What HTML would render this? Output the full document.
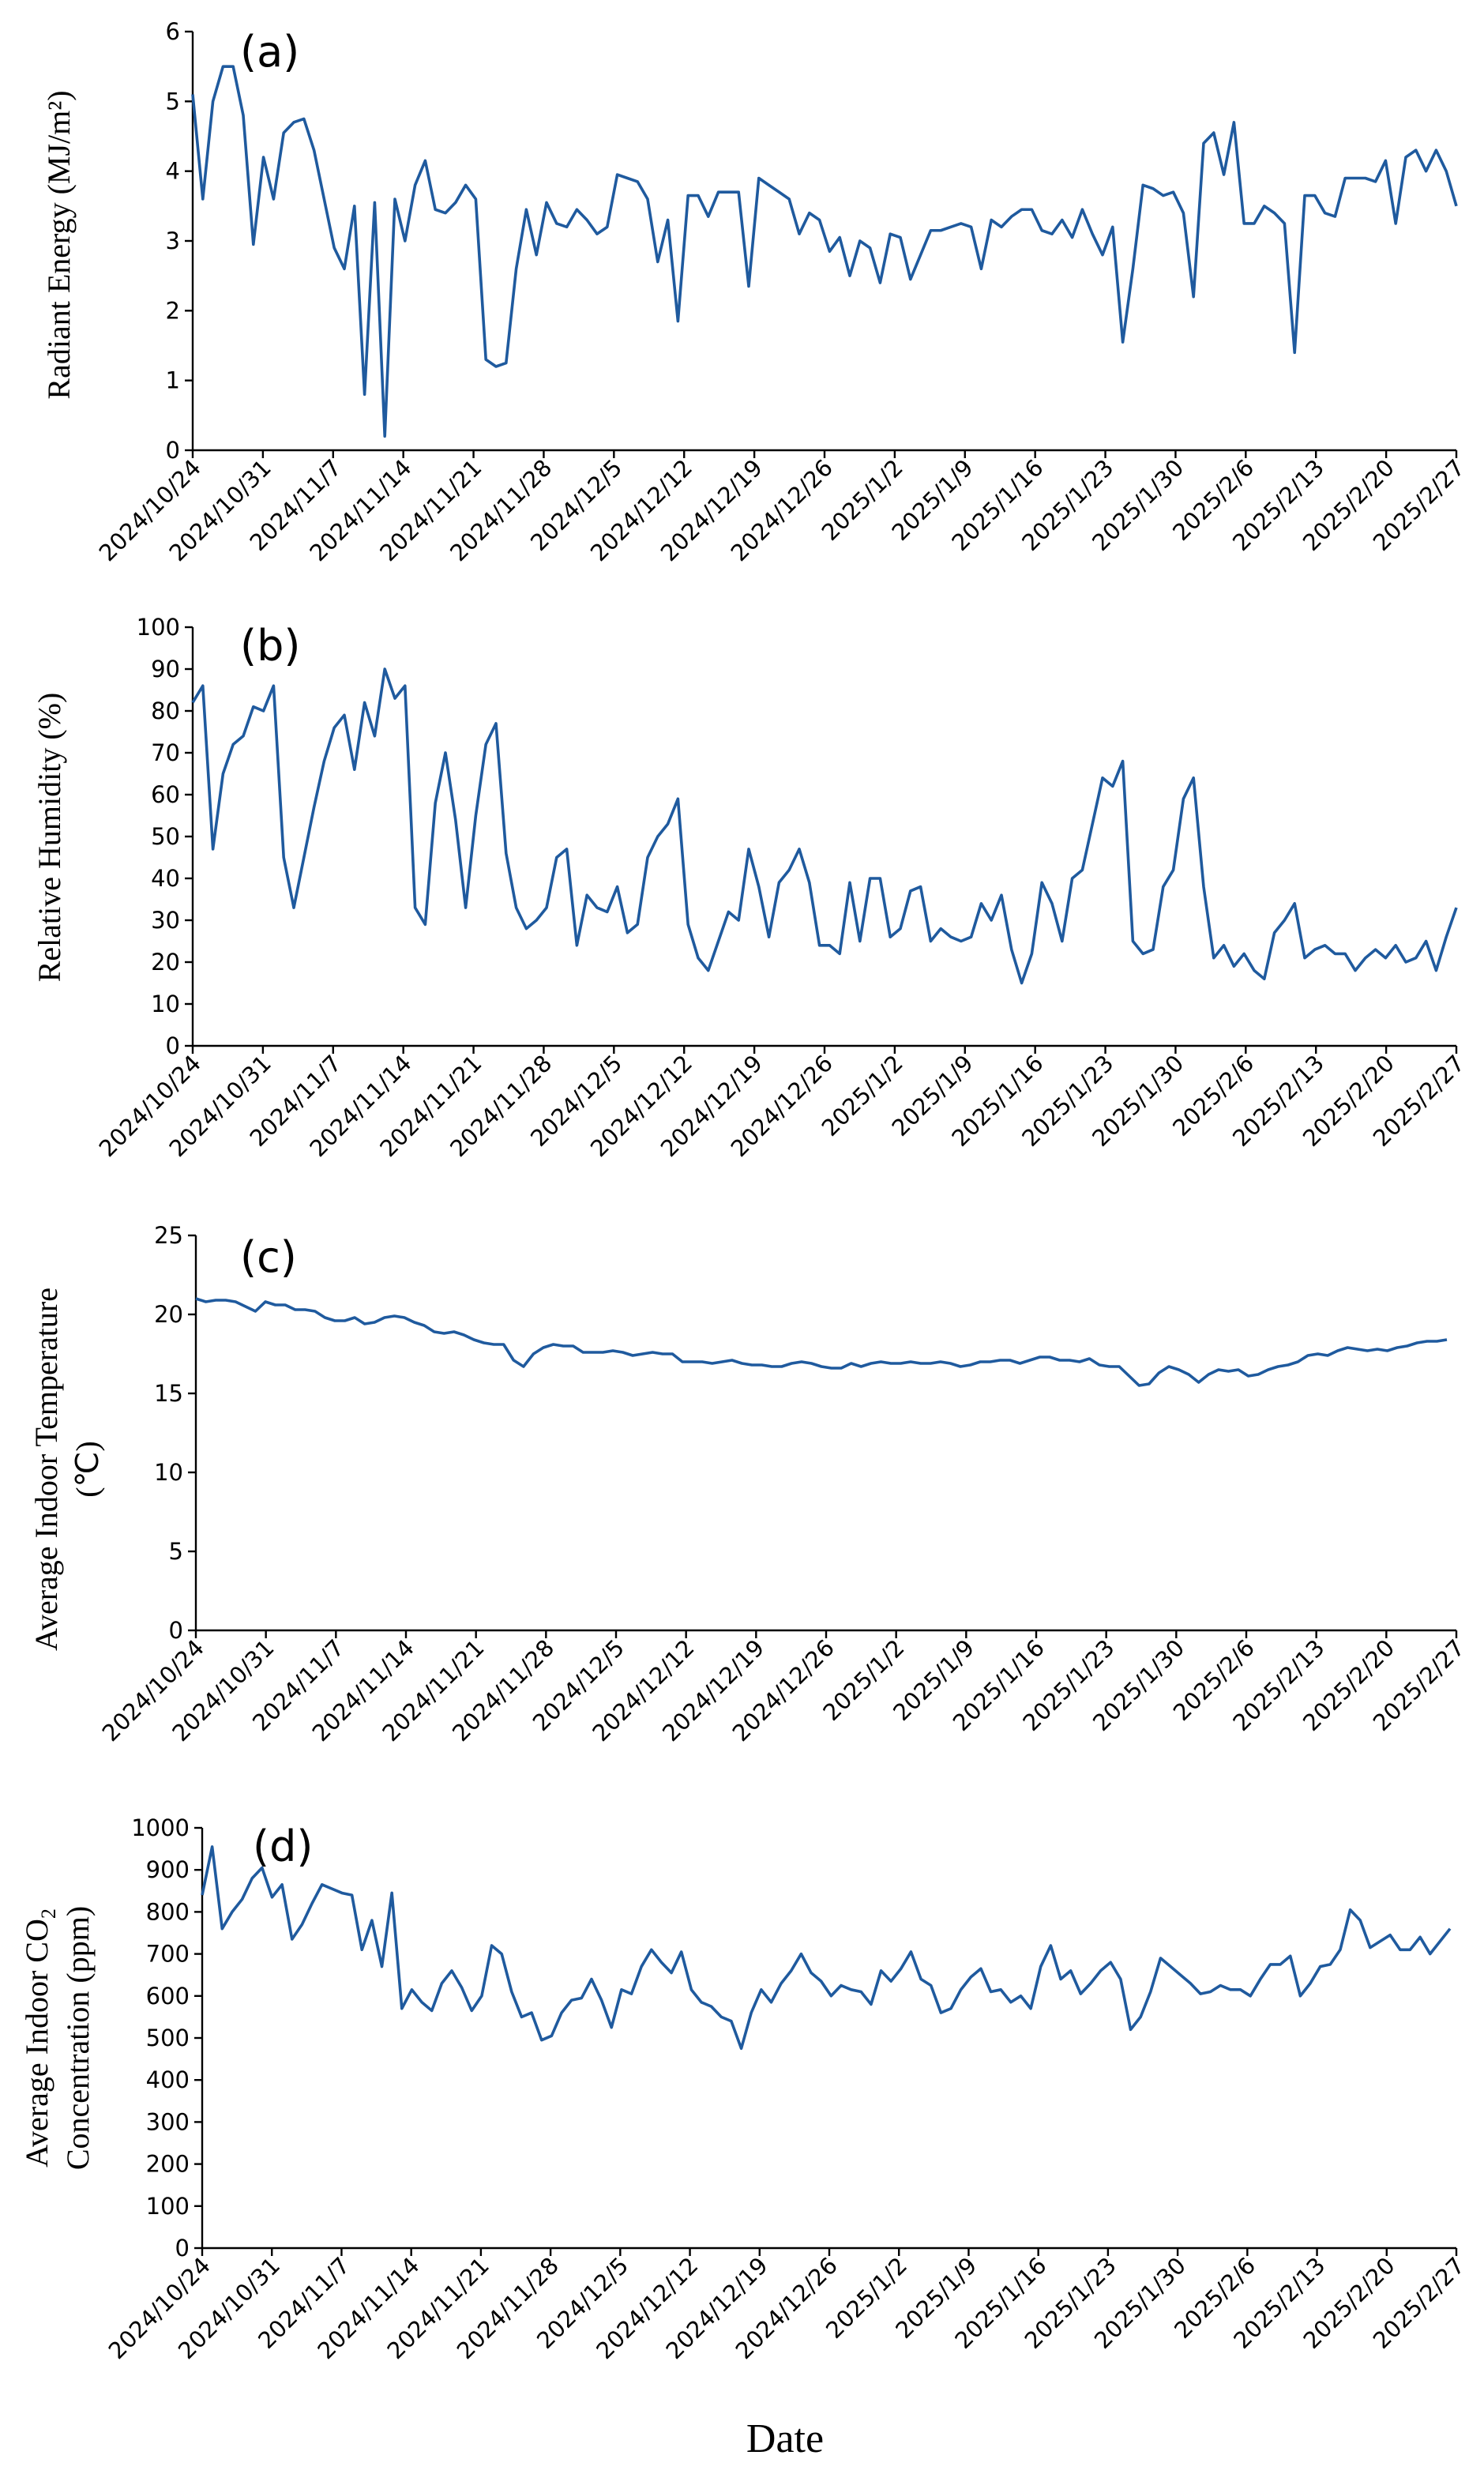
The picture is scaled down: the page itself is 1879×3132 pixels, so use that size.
<!DOCTYPE html>
<html><head><meta charset="utf-8">
<style>
html,body{margin:0;padding:0;background:#fff;}
svg{display:block;}
.tick{font-family:"DejaVu Sans","Liberation Sans",sans-serif;font-size:14.5px;fill:#000;}
.title{font-family:"Liberation Serif",serif;font-size:20px;fill:#000;}
.plab{font-family:"DejaVu Sans","Liberation Sans",sans-serif;font-size:27px;fill:#000;}
</style></head>
<body>
<svg id="chart" width="1879" height="3132" viewBox="0 0 939.5 1566" xmlns="http://www.w3.org/2000/svg"></svg>
<script>
const dateLabels=["2024/10/24","2024/10/31","2024/11/7","2024/11/14","2024/11/21","2024/11/28","2024/12/5","2024/12/12","2024/12/19","2024/12/26","2025/1/2","2025/1/9","2025/1/16","2025/1/23","2025/1/30","2025/2/6","2025/2/13","2025/2/20","2025/2/27"];
const radiantEnergy=[5.1,3.6,5.0,5.5,5.5,4.8,2.95,4.2,3.6,4.55,4.7,4.75,4.3,3.6,2.9,2.6,3.5,0.8,3.55,0.2,3.6,3.0,3.8,4.15,3.45,3.4,3.55,3.8,3.6,1.3,1.2,1.25,2.6,3.45,2.8,3.55,3.25,3.2,3.45,3.3,3.1,3.2,3.95,3.9,3.85,3.6,2.7,3.3,1.85,3.65,3.65,3.35,3.7,3.7,3.7,2.35,3.9,3.8,3.7,3.6,3.1,3.4,3.3,2.85,3.05,2.5,3.0,2.9,2.4,3.1,3.05,2.45,2.8,3.15,3.15,3.2,3.25,3.2,2.6,3.3,3.2,3.35,3.45,3.45,3.15,3.1,3.3,3.05,3.45,3.1,2.8,3.2,1.55,2.6,3.8,3.75,3.65,3.7,3.4,2.2,4.4,4.55,3.95,4.7,3.25,3.25,3.5,3.4,3.25,1.4,3.65,3.65,3.4,3.35,3.9,3.9,3.9,3.85,4.15,3.25,4.2,4.3,4.0,4.3,4.0,3.5];
const humidity=[82,86,47,65,72,74,81,80,86,45,33,45,57,68,76,79,66,82,74,90,83,86,33,29,58,70,54,33,55,72,77,46,33,28,30,33,45,47,24,36,33,32,38,27,29,45,50,53,59,29,21,18,25,32,30,47,38,26,39,42,47,39,24,24,22,39,25,40,40,26,28,37,38,25,28,26,25,26,34,30,36,23,15,22,39,34,25,40,42,53,64,62,68,25,22,23,38,42,59,64,38,21,24,19,22,18,16,27,30,34,21,23,24,22,22,18,21,23,21,24,20,21,25,18,26,33];
const temperature=[21,20.8,20.9,20.9,20.8,20.5,20.2,20.8,20.6,20.6,20.3,20.3,20.2,19.8,19.6,19.6,19.8,19.4,19.5,19.8,19.9,19.8,19.5,19.3,18.9,18.8,18.9,18.7,18.4,18.2,18.1,18.1,17.1,16.7,17.5,17.9,18.1,18.0,18.0,17.6,17.6,17.6,17.7,17.6,17.4,17.5,17.6,17.5,17.5,17.0,17.0,17.0,16.9,17.0,17.1,16.9,16.8,16.8,16.7,16.7,16.9,17.0,16.9,16.7,16.6,16.6,16.9,16.7,16.9,17.0,16.9,16.9,17.0,16.9,16.9,17.0,16.9,16.7,16.8,17.0,17.0,17.1,17.1,16.9,17.1,17.3,17.3,17.1,17.1,17.0,17.2,16.8,16.7,16.7,16.1,15.5,15.6,16.3,16.7,16.5,16.2,15.7,16.2,16.5,16.4,16.5,16.1,16.2,16.5,16.7,16.8,17.0,17.4,17.5,17.4,17.7,17.9,17.8,17.7,17.8,17.7,17.9,18.0,18.2,18.3,18.3,18.4];
const co2=[840,955,760,800,830,880,905,835,865,735,770,820,865,855,845,840,710,780,670,845,570,615,585,565,630,660,620,565,600,720,700,610,550,560,495,505,560,590,595,640,590,525,615,605,670,710,680,655,705,615,585,575,550,540,475,560,615,585,630,660,700,655,635,600,625,615,610,580,660,635,665,705,640,625,560,570,615,645,665,610,615,585,600,570,670,720,640,660,605,630,660,680,640,520,550,610,690,670,650,630,605,610,625,615,615,600,640,675,675,695,600,630,670,675,710,805,780,715,730,745,710,710,740,700,730,760];
const ticksA=[0,1,2,3,4,5,6], ticksB=[0,10,20,30,40,50,60,70,80,90,100], ticksC=[0,5,10,15,20,25], ticksD=[0,100,200,300,400,500,600,700,800,900,1000];

const NS="http://www.w3.org/2000/svg";
const svg=document.getElementById('chart');
function mk(tag,attrs,parent){const e=document.createElementNS(NS,tag);for(const k in attrs)e.setAttribute(k,attrs[k]);(parent||svg).appendChild(e);return e;}

function panel(cfg){
  const g=mk('g',{});
  
  
  const x0=cfg.x0,x1=cfg.x1,y0=cfg.y0,y1=cfg.y1,ymax=cfg.ticks[cfg.ticks.length-1];
  const ys=v=>y0-(v/ymax)*(y0-y1);
  const xsDay=d=>x0+(d/126)*(x1-x0);
  const xs=i=>x0+(i/(cfg.data.length-1))*(cfg.xEnd-x0);
  const ax=mk('path',{d:`M${x0},${y1} L${x0},${y0} L${x1},${y0}`,stroke:'#000','stroke-width':1.2,fill:'none'},g);
  
  
  cfg.ticks.forEach(t=>{
    const y=ys(t);
    mk('line',{x1:x0-5,x2:x0,y1:y,y2:y,stroke:'#000','stroke-width':1.2},g);
    const tx=mk('text',{x:x0-8,y:y+5,'text-anchor':'end',class:'tick'},g);
    tx.textContent=t;
    
    
  });
  dateLabels.forEach((l,i)=>{
    const x=xsDay(i*7);
    mk('line',{x1:x,x2:x,y1:y0,y2:y0+5,stroke:'#000','stroke-width':1.2},g);
    const tx=mk('text',{x:x+6,y:y0+12,'text-anchor':'end',class:'tick',transform:`rotate(-45 ${x+6} ${y0+12})`},g);
    tx.textContent=l;
    
    
  });
  const pts=cfg.data.map((v,i)=>`${xs(i).toFixed(2)},${ys(v).toFixed(2)}`).join(' ');
  const pl=mk('polyline',{points:pts,fill:'none',stroke:'#1f5a9e','stroke-width':1.8,'stroke-linejoin':'round'},g);
  
  
  const lab=mk('text',{x:cfg.lx,y:cfg.ly,class:'plab'},g);
  lab.textContent=cfg.label;
  
  
  cfg.titles.forEach(t=>{
    const tt=mk('text',{x:t[0],y:cfg.tcy,'text-anchor':'middle',class:'title',transform:`rotate(-90 ${t[0]} ${cfg.tcy})`},g);
    tt.innerHTML=t[1];
    
    
  });
}
panel({name:'radiant-energy',data:radiantEnergy,ticks:ticksA,x0:122,x1:922,xEnd:922,y0:285,y1:20,lx:152,ly:42,label:'(a)',titles:[[44,'Radiant Energy (MJ/m²)']],tcy:155});
panel({name:'humidity',data:humidity,ticks:ticksB,x0:122,x1:922,xEnd:922,y0:662,y1:397,lx:152,ly:418,label:'(b)',titles:[[38,'Relative Humidity (%)']],tcy:530});
panel({name:'temperature',data:temperature,ticks:ticksC,x0:124,x1:922,xEnd:916,y0:1032,y1:782,lx:152,ly:805,label:'(c)',titles:[[36,'Average Indoor Temperature'],[62,'(℃)']],tcy:930});
panel({name:'co2',data:co2,ticks:ticksD,x0:128,x1:922,xEnd:918,y0:1423,y1:1157,lx:160,ly:1178,label:'(d)',titles:[[30,'Average Indoor CO<tspan dy="5" font-size="13">2</tspan>'],[56,'Concentration (ppm)']],tcy:1290});
const dt=mk('text',{x:497,y:1552,'text-anchor':'middle',class:'title',style:'font-size:26px'});
dt.textContent='Date';


</script>
</body></html>
